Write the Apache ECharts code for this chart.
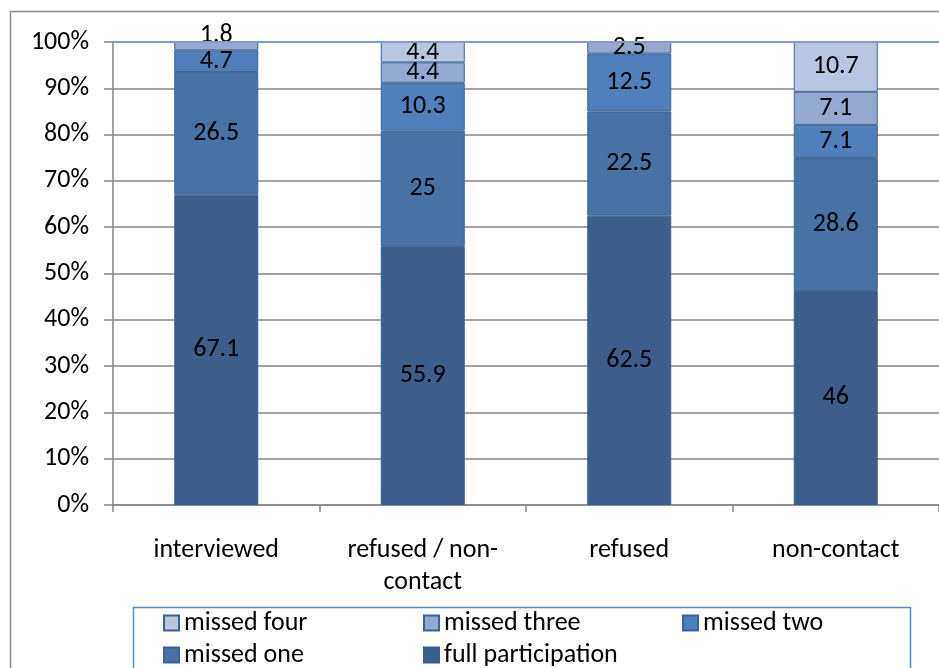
<!DOCTYPE html>
<html>
<head>
<meta charset="utf-8">
<script src="https://cdn.jsdelivr.net/npm/echarts@6/dist/echarts.min.js"></script>
<style>
html,body{margin:0;padding:0;background:#fff;}
#chart{width:939px;height:668px;}
</style>
</head>
<body>
<div id="chart"></div>
<script>
var categories = ['interviewed', 'refused / non-contact', 'refused', 'non-contact'];
var fullParticipation = [67.1, 55.9, 62.5, 46];
var missedOne = [26.5, 25, 22.5, 28.6];
var missedTwo = [4.7, 10.3, 12.5, 7.1];
var missedThree = [1.8, 4.4, 2.5, 7.1];
var missedFour = [null, 4.4, null, 10.7];
var yTicks = [0, 10, 20, 30, 40, 50, 60, 70, 80, 90, 100];

var FONT = 'Carlito, "Liberation Sans", Arial, sans-serif';
var chart = echarts.init(document.getElementById('chart'));

// 100% stacked: each segment drawn as share of its column total, labelled with its own value
var allSeries = [fullParticipation, missedOne, missedTwo, missedThree, missedFour];
var totals = categories.map(function (c, i) {
  return allSeries.reduce(function (s, arr) { return s + (arr[i] || 0); }, 0);
});

function mkSeries(name, values, color, border, extra) {
  return Object.assign({
    name: name,
    type: 'bar',
    stack: 'total',
    barWidth: 84,
    data: values.map(function (v, i) {
      if (v === null) return null;
      var item = { value: v / totals[i] * 100, raw: v };
      if (name === 'missed three' && i === 0) item.label = { offset: [0, -11] };
      return item;
    }),
    itemStyle: { color: color, borderColor: border, borderWidth: 1 },
    label: {
      show: true, position: 'inside', color: '#000',
      fontFamily: FONT, fontSize: 26,
      formatter: function (p) { return p.data.raw; }
    }
  }, extra || {});
}

var legendText = { fontFamily: FONT, fontSize: 26, color: '#000' };
function mkLegend(name, left, top) {
  return {
    data: [name], left: left, top: top, itemWidth: 15, itemHeight: 15,
    icon: 'rect', itemGap: 0, padding: 0, textStyle: legendText, selectedMode: false
  };
}

chart.setOption({
  animation: false,
  backgroundColor: '#fff',
  grid: { left: 113, top: 42, width: 832, height: 463 },
  graphic: [
    { type: 'rect', shape: { x: 10.5, y: 11.5, width: 1000, height: 1000 },
      style: { fill: null, stroke: '#8a8a8a', lineWidth: 1.5 }, silent: true },
    { type: 'rect', shape: { x: 133.5, y: 607.5, width: 777, height: 100 },
      style: { fill: null, stroke: '#5b86c0', lineWidth: 1.5 }, silent: true }
  ],
  legend: [
    mkLegend('missed four', 163, 610),
    mkLegend('missed three', 423, 610),
    mkLegend('missed two', 682, 610),
    mkLegend('missed one', 163, 642),
    mkLegend('full participation', 423, 642)
  ],
  xAxis: {
    type: 'category',
    data: categories,
    axisLine: { lineStyle: { color: '#868686', width: 1.5 } },
    axisTick: { show: true, length: 7, lineStyle: { color: '#868686', width: 1.5 } },
    axisLabel: {
      margin: 29, color: '#000', fontFamily: FONT, fontSize: 26, lineHeight: 32,
      formatter: function (v, i) { return i === 1 ? v.replace('non-contact', 'non-\ncontact') : v; }
    }
  },
  yAxis: {
    type: 'value',
    min: 0, max: 100, interval: 10,
    axisLine: { show: true, lineStyle: { color: '#868686', width: 1.5 } },
    axisTick: { show: true, length: 9, lineStyle: { color: '#868686', width: 1.5 } },
    splitLine: { show: true, lineStyle: { color: '#868686', width: 1.5 } },
    axisLabel: {
      margin: 24, color: '#000', fontFamily: FONT, fontSize: 26,
      formatter: function (v) { return yTicks.indexOf(v) >= 0 ? v + '%' : ''; }
    }
  },
  series: [
    mkSeries('full participation', fullParticipation, '#3b5e8c', '#3a5c8a'),
    mkSeries('missed one', missedOne, '#4672a6', '#3d6393'),
    mkSeries('missed two', missedTwo, '#4f80bc', '#3d6393'),
    mkSeries('missed three', missedThree, '#95a9d0', '#3d6393'),
    mkSeries('missed four', missedFour, '#bac6e0', '#3d6393', {
      markLine: {
        silent: true, symbol: 'none', label: { show: false },
        lineStyle: { color: '#7f9ccb', width: 2, type: 'solid' },
        data: [{ yAxis: 100 }]
      }
    })
  ]
});
</script>
</body>
</html>
